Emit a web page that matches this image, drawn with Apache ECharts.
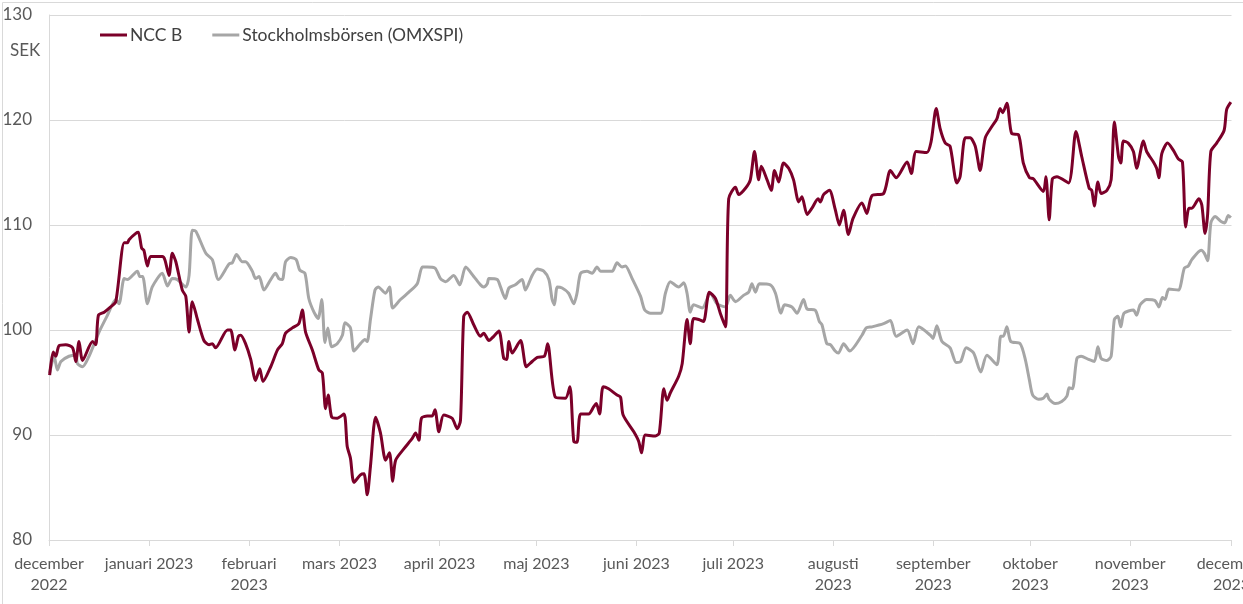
<!DOCTYPE html>
<html>
<head>
<meta charset="utf-8">
<script src="https://cdn.jsdelivr.net/npm/echarts@6/dist/echarts.min.js"></script>
<style>
html,body{margin:0;padding:0;background:#fff;}
#chart{width:1243px;height:604px;}
</style>
</head>
<body>
<div id="chart"></div>
<script>
const seriesNames = ['NCC B', 'Stockholmsbörsen (OMXSPI)'];
const monthLabels = ['december\n2022','januari 2023','februari\n2023','mars 2023','april 2023','maj 2023','juni 2023','juli 2023','augusti\n2023','september\n2023','oktober\n2023','november\n2023','december\n2023'];
const yTicks = [80, 90, 100, 110, 120, 130];

// days after 2022-12-01
const nccDays = [0.2,1.3,2.1,3.1,5.2,7.3,8.3,9.3,10.4,13.5,
14.5,15.3,17.1,19.1,20.7,23.3,24.3,24.8,26.9,27.7,
28.7,29.4,30.5,31.5,35.1,35.9,37.2,38.2,39.3,41.3,
42.4,43.4,44.4,46.0,48.0,49.6,50.6,51.6,55.3,56.3,
57.6,58.7,59.4,60.9,62.5,64.0,65.3,66.3,68.7,70.8,
72.3,73.3,75.4,77.4,78.5,79.5,81.6,83.6,84.7,85.7,
86.5,87.6,89.3,91.4,92.4,93.4,94.5,96.5,97.6,98.6,
99.6,101.2,102.7,104.3,105.5,106.5,107.4,110.0,112.6,113.6,
114.6,115.4,117.2,118.7,119.6,120.8,122.3,124.9,126.5,127.5,
128.5,129.6,131.6,133.7,134.7,136.3,137.8,139.4,140.9,141.8,
142.5,143.5,146.1,147.9,149.7,151.3,153.5,154.5,156.9,160.0,
161.4,162.6,163.6,164.7,167.2,168.8,169.6,170.6,171.7,173.4,
176.0,177.1,177.9,181.2,182.7,183.6,184.8,187.9,189.1,190.5,
191.5,192.5,195.1,196.2,197.7,198.7,199.7,201.3,202.8,204.6,
206.5,208.0,209.6,210.6,212.7,213.7,215.8,217.3,218.6,219.9,
220.7,222.5,223.8,224.8,226.1,227.6,229.2,230.7,232.3,233.3,
234.9,236.4,238.3,239.0,240.0,241.8,243.6,244.9,246.2,247.7,
249.1,251.9,253.4,255.0,258.6,260.7,262.5,265.9,267.2,268.7,
272.0,273.3,274.9,276.1,277.7,279.2,281.3,282.3,283.9,285.4,
287.0,288.5,290.1,292.2,293.7,294.7,295.5,296.8,298.3,300.4,
301.9,303.8,305.0,308.1,308.9,309.9,310.9,312.3,315.9,318.2,
320.0,322.3,323.1,323.9,325.0,326.0,327.8,329.1,330.1,331.4,
332.1,332.9,334.4,336.0,337.0,339.1,340.1,342.2,343.2,343.9,
344.8,346.6,348.4,349.9,351.2,352.2,353.2,354.1,356.3,357.2,
358.2,359.0,360.0,361.8,364.1,364.9,366.2];
const nccValues = [95.7,97.9,97.5,98.5,98.6,98.3,97.0,98.9,97.1,98.9,
98.6,101.4,101.7,102.2,102.7,108.3,108.3,108.6,109.2,109.3,
107.8,107.6,106.1,107.0,107.0,106.7,105.2,107.3,106.5,103.8,
103.2,99.8,102.7,101.0,99.0,98.6,98.7,98.3,100.0,100.0,
98.1,99.4,99.5,98.7,97.2,95.2,96.3,95.1,96.5,98.1,
98.7,99.7,100.2,100.6,101.9,99.8,98.1,96.2,95.9,92.5,
93.8,91.7,91.6,92.0,88.9,87.8,85.5,86.2,86.3,84.3,
87.0,91.7,90.2,87.6,88.3,85.6,87.6,88.7,89.7,90.2,
89.5,91.6,91.8,91.8,92.4,90.3,91.9,91.6,90.6,91.4,
101.3,101.7,100.5,99.4,99.7,99.0,99.4,99.9,97.3,97.2,
98.9,97.8,99.0,96.5,97.0,97.4,97.5,98.7,93.6,93.5,
94.6,89.4,89.3,92.0,92.0,92.7,93.0,92.0,94.6,94.4,
93.8,93.6,91.9,90.3,89.4,88.3,90.0,89.9,90.2,94.4,
93.3,94.0,95.6,96.8,101.0,98.7,101.1,101.0,100.8,103.6,
103.0,101.6,100.3,112.5,113.6,112.9,113.5,114.3,117.0,114.3,
115.6,114.3,113.3,115.2,114.1,115.9,115.4,114.3,112.2,112.7,
111.0,111.6,112.5,112.2,112.9,113.3,111.5,110.0,111.4,109.1,
110.6,112.1,111.1,112.8,113.0,115.2,114.5,116.0,114.9,117.0,
116.9,117.9,121.1,119.2,117.8,117.5,114.0,114.6,118.3,118.3,
117.5,115.2,118.3,119.4,120.1,121.1,120.7,121.6,118.7,118.6,
115.9,114.5,114.4,113.2,114.6,110.5,114.4,114.6,114.0,118.9,
116.5,113.5,113.3,111.8,114.1,113.0,113.3,114.3,119.8,116.5,
115.9,118.0,117.8,117.0,115.4,118.0,117.0,116.0,115.4,114.5,
116.8,117.8,117.1,116.3,116.0,109.8,111.6,111.6,112.5,111.9,
109.2,111.0,117.0,117.8,119.0,121.0,121.7];

const omxDays = [0.2,1.6,2.6,3.7,6.2,8.3,8.8,10.4,12.4,15.5,
18.1,20.7,21.7,23.3,24.3,27.4,28.1,29.0,30.5,32.0,
35.1,36.7,38.2,39.8,42.4,43.4,44.4,45.5,48.6,50.6,
52.5,55.8,56.8,58.1,59.9,60.9,63.0,64.0,65.1,66.6,
68.7,70.2,71.2,72.3,73.3,74.9,76.6,77.7,79.3,80.5,
82.1,83.4,84.5,85.5,86.4,87.6,89.3,90.9,91.7,93.4,
94.5,96.5,97.9,98.6,99.6,101.0,102.0,104.3,105.5,106.5,
108.9,111.5,114.1,115.7,117.2,119.6,121.3,122.9,125.4,127.3,
129.1,131.6,133.7,134.7,135.8,136.3,138.9,139.9,141.4,142.5,
144.5,146.6,147.6,149.7,151.3,153.3,154.9,155.9,156.6,157.5,
159.0,161.0,162.6,163.6,164.7,166.7,168.3,169.8,170.9,174.5,
176.0,177.6,178.6,180.7,183.3,184.6,186.4,189.5,191.0,192.5,
195.1,196.7,197.7,198.7,199.7,202.4,204.9,207.0,209.6,211.1,
212.7,215.2,216.8,217.8,218.9,220.1,223.5,225.1,226.8,227.9,
230.2,231.8,233.8,234.9,237.4,238.7,239.5,241.0,242.1,243.6,
244.6,246.2,248.1,251.9,253.2,255.0,258.6,260.7,262.5,265.9,
267.7,269.5,273.1,273.9,275.1,276.7,279.2,281.1,282.5,284.2,
286.5,288.7,290.6,293.7,294.9,295.7,296.8,298.0,300.9,302.5,
303.8,304.8,306.6,308.1,309.2,309.9,311.8,313.8,315.4,316.1,
317.1,318.5,319.8,322.1,323.9,325.0,326.0,327.8,329.1,330.1,
331.2,332.1,333.1,336.0,337.0,338.1,340.1,342.7,343.9,345.0,
345.8,347.0,349.9,351.8,353.0,354.1,357.0,358.0,359.0,360.0,
361.3,363.3,364.3,365.4,366.2];
const omxValues = [95.9,97.5,96.2,97.0,97.5,97.6,96.8,96.5,97.5,99.8,
101.4,102.9,102.5,104.9,104.8,105.6,105.1,105.1,102.5,104.1,
105.4,104.2,104.9,104.8,104.1,105.2,109.5,109.4,107.3,106.7,
104.8,106.3,106.4,107.2,106.5,106.5,105.6,104.9,105.1,103.8,
104.8,105.4,104.9,104.8,106.5,106.9,106.7,105.7,105.4,103.0,
101.7,101.1,102.9,98.8,100.2,98.4,98.7,99.5,100.7,100.2,
98.0,98.7,99.1,98.9,101.0,103.8,104.1,103.5,104.1,102.1,
102.9,103.6,104.4,106.0,106.0,105.9,104.9,104.6,105.2,104.3,
106.0,105.1,104.3,104.1,104.4,104.9,104.8,104.1,103.0,104.0,
104.3,104.8,103.8,105.2,105.8,105.6,104.8,102.9,102.4,104.1,
104.0,103.5,102.5,103.5,105.4,105.6,105.4,106.0,105.6,105.6,
106.4,106.0,106.1,104.9,103.2,101.9,101.6,101.6,103.5,104.6,
104.1,104.5,103.5,101.7,102.4,102.1,103.5,102.5,102.2,103.3,
102.7,103.3,103.6,104.4,103.6,104.4,104.3,103.5,101.6,102.4,
102.2,101.6,102.9,102.0,101.9,100.8,100.5,98.7,98.6,98.0,
97.8,98.7,98.0,99.5,100.2,100.3,100.6,100.9,99.4,100.0,
98.7,100.3,99.5,99.2,100.4,98.9,98.3,96.9,97.0,98.3,
97.8,96.0,97.6,96.7,99.4,99.4,100.3,98.9,98.7,97.2,
95.2,93.8,93.4,93.5,93.9,93.4,93.0,93.2,93.7,94.5,
94.4,97.3,97.5,97.2,97.0,98.4,97.3,97.1,97.5,101.0,
101.3,100.3,101.6,101.9,101.4,102.4,102.9,102.8,102.2,103.1,
102.9,103.9,103.8,105.9,106.1,106.7,107.6,107.3,106.6,110.2,
110.8,110.3,110.2,110.9,110.7];

const DAY = 86400000;
const t0 = new Date(2022, 11, 1).getTime();
const toPairs = (days, vals) => days.map((d, i) => [t0 + d * DAY, vals[i]]);

const FONT = 'Lato, "Open Sans", sans-serif';
const chart = echarts.init(document.getElementById('chart'), null, {renderer: 'canvas'});
chart.setOption({
  animation: false,
  backgroundColor: '#ffffff',
  grid: {left: 49, right: 11.5, top: 15, bottom: 64, containLabel: false, outerBoundsMode: 'none'},
  legend: {
    left: 100, top: 26, padding: 0, itemGap: 30, itemWidth: 27, itemHeight: 3,
    icon: 'rect',
    textStyle: {color: '#404040', fontSize: 17.5, fontFamily: FONT, padding: [0, 0, 0, -2]},
    data: seriesNames
  },
  xAxis: {
    type: 'time',
    min: t0,
    max: t0 + 366.4 * DAY,
    minInterval: 28 * DAY,
    maxInterval: 31 * DAY,
    splitNumber: 12,
    axisLine: {show: true, lineStyle: {color: '#d9d9d9', width: 1}},
    axisTick: {show: true, length: 6, lineStyle: {color: '#d9d9d9'}},
    splitLine: {show: false},
    axisLabel: {
      color: '#595959', fontSize: 16, fontFamily: FONT, margin: 13, lineHeight: 21,
      align: 'center', alignMinLabel: 'center', alignMaxLabel: 'center', hideOverlap: false,
      showMinLabel: true, showMaxLabel: true,
      formatter: function (val) {
        const dt = new Date(val);
        const k = (dt.getFullYear() - 2022) * 12 + dt.getMonth() - 11;
        return monthLabels[k] || '';
      }
    }
  },
  yAxis: {
    type: 'value',
    min: yTicks[0], max: yTicks[yTicks.length - 1], interval: 10,
    axisLine: {show: true, lineStyle: {color: '#d9d9d9'}},
    axisTick: {show: false},
    splitLine: {show: true, lineStyle: {color: '#d9d9d9', width: 1}},
    axisLabel: {color: '#595959', fontSize: 17, fontFamily: FONT, margin: 17}
  },
  graphic: [
    {type: 'rect', left: 0, top: 0, z: -1, silent: true,
     shape: {x: 0.5, y: 0.5, width: 1241, height: 602},
     style: {fill: 'none', stroke: '#d9d9d9', lineWidth: 1}},
    {type: 'text', left: 10, top: 42, silent: true,
     style: {text: 'SEK', fill: '#595959', fontSize: 17, fontFamily: FONT}}
  ],
  series: [
    {
      name: seriesNames[1], type: 'line', data: toPairs(omxDays, omxValues),
      showSymbol: false, symbol: 'none', smooth: 0.25, z: 2,
      lineStyle: {color: '#a6a6a6', width: 3}, itemStyle: {color: '#a6a6a6'}
    },
    {
      name: seriesNames[0], type: 'line', data: toPairs(nccDays, nccValues),
      showSymbol: false, symbol: 'none', smooth: 0.25, z: 3,
      lineStyle: {color: '#7b0029', width: 3}, itemStyle: {color: '#7b0029'}
    }
  ]
});
</script>
</body>
</html>
